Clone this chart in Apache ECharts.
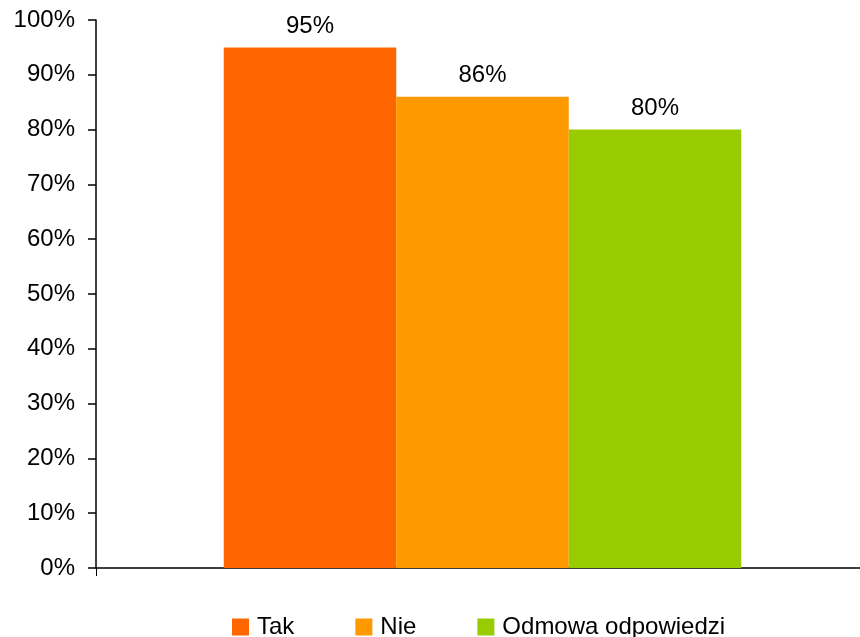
<!DOCTYPE html>
<html><head><meta charset="utf-8">
<script src="https://cdn.jsdelivr.net/npm/echarts@6/dist/echarts.min.js"></script>
<style>html,body{margin:0;padding:0;background:#fff}#c{width:860px;height:637px}</style>
</head><body><div id="c"></div>
<script>
const categories = [''];
const seriesNames = ['Tak', 'Nie', 'Odmowa odpowiedzi'];
const takValues = [0.95];
const nieValues = [0.86];
const odmowaValues = [0.80];
const colors = ['#FF6600', '#FF9900', '#99CC00'];
const yTicks = {min: 0, max: 1, interval: 0.1};

const font = 'Liberation Sans, Arial, sans-serif';
const pct = v => Math.round(v * 100) + '%';
const mk = (name, data, color) => ({
  name, type: 'bar', data, barWidth: 172.5, barGap: '0%',
  itemStyle: {color},
  label: {show: true, position: 'top', distance: 9, formatter: p => pct(p.value),
    color: '#000', fontSize: 24, fontFamily: font}
});
const chart = echarts.init(document.getElementById('c'), null, {renderer: 'canvas'});
chart.setOption({
  animation: false,
  backgroundColor: '#fff',
  grid: {left: 96, right: -9, top: 20, bottom: 69, containLabel: false, outerBoundsMode: 'none'},
  xAxis: {type: 'category', data: categories,
    axisLine: {lineStyle: {color: '#000', width: 1.5}},
    axisTick: {show: true, length: 8, lineStyle: {color: '#000'}},
    axisLabel: {show: false}, splitLine: {show: false}},
  yAxis: {type: 'value', min: yTicks.min, max: yTicks.max, interval: yTicks.interval,
    axisLine: {show: true, lineStyle: {color: '#000', width: 1.5}},
    axisTick: {show: true, length: 8, lineStyle: {color: '#000', width: 1.5}},
    axisLabel: {formatter: v => pct(v), color: '#000', fontSize: 24, fontFamily: font, margin: 21},
    splitLine: {show: false}},
  legend: {data: seriesNames, left: 232, top: 615, padding: 0, itemWidth: 17, itemHeight: 17, itemGap: 61,
    icon: 'rect', textStyle: {color: '#000', fontSize: 24, fontFamily: font, padding: [0,0,0,3]}},
  series: [mk(seriesNames[0], takValues, colors[0]), mk(seriesNames[1], nieValues, colors[1]), mk(seriesNames[2], odmowaValues, colors[2])]
});
</script></body></html>
